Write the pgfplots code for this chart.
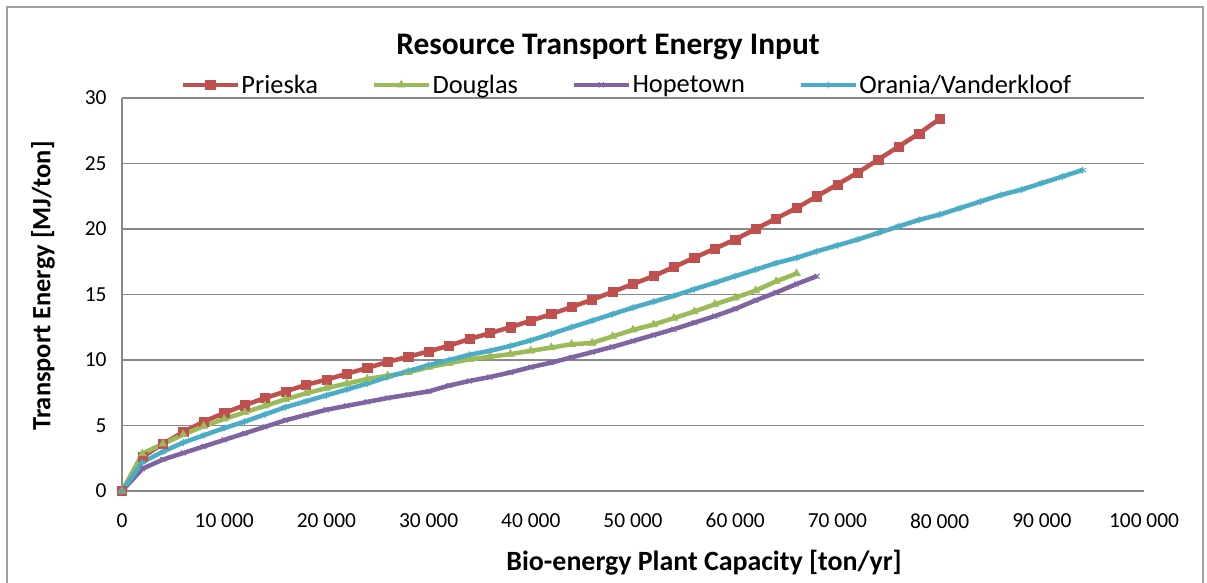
\documentclass[border=0pt]{standalone}
\usepackage{pgfplots}
\pgfplotsset{compat=1.18}
\usepackage{fontspec}
\setmainfont{Carlito}
\definecolor{cPri}{HTML}{C0504D}
\definecolor{cDou}{HTML}{9BBB59}
\definecolor{cHop}{HTML}{8064A2}
\definecolor{cOra}{HTML}{4BACC6}
\definecolor{cGrid}{HTML}{898989}
\begin{document}
\begin{tikzpicture}[x=1bp,y=1bp]
\useasboundingbox (0,0) rectangle (1207,583);
\draw[cGrid!80,line width=1.5bp] (7,-2) -- (7,576) -- (1203,576) -- (1203,-2);
\node[font=\bfseries\fontsize{31.5}{34}\selectfont] at (608,536) {Resource Transport Energy Input};
\node[font=\bfseries\fontsize{26.5}{30}\selectfont,rotate=90] at (43,297) {Transport Energy [MJ/ton]};
\node[font=\bfseries\fontsize{28}{31}\selectfont] at (704,20) {Bio-energy Plant Capacity [ton/yr]};
\begin{axis}[
  at={(122bp,92bp)}, anchor=origin,
  scale only axis, width=1022bp, height=393bp,
  xmin=0, xmax=100000, ymin=0, ymax=30,
  axis x line*=bottom, axis y line*=left,
  axis line style={cGrid,line width=1.5bp},
  ymajorgrids, grid style={cGrid,line width=1.5bp},
  major tick length=0pt,
  scaled x ticks=false,
  ytick={0,5,...,30},
  xtick={0,10000,...,100000},
  xticklabels={0,10 000,20 000,30 000,40 000,50 000,60 000,70 000,80 000,90 000,100 000},
  /pgf/number format/assume math mode=true,
  ticklabel style={font=\fontsize{21.5}{23}\selectfont},
  xticklabel style={yshift=-19bp},
  yticklabel style={xshift=-12bp},
  clip=false,
  legend columns=4,
  legend style={at={(axis description cs:0.4937,1)}, anchor=south, yshift=1bp, draw=none, fill=none,
    font=\fontsize{26.5}{29}\selectfont,
    nodes={inner xsep=1.5bp, inner ysep=0bp},
    /tikz/every even column/.append style={column sep=52bp}},
  legend cell align=left,
  legend image code/.code={\draw[#1, mark repeat=2, mark phase=2] plot coordinates {(0bp,0bp) (27.5bp,0bp) (55bp,0bp)};},
  every axis plot/.append style={line width=4.5bp},
]
\addplot[cPri, mark=square*, mark size=4.6bp, mark options={line width=0.5bp}] coordinates {
(0,0)(2000,2.6)(4000,3.6)(6000,4.5)(8000,5.3)(10000,5.95)(12000,6.55)(14000,7.1)(16000,7.6)(18000,8.1)(20000,8.5)(22000,8.95)(24000,9.4)(26000,9.85)(28000,10.25)(30000,10.65)(32000,11.1)(34000,11.6)(36000,12.05)(38000,12.5)(40000,13.0)(42000,13.5)(44000,14.05)(46000,14.6)(48000,15.2)(50000,15.8)(52000,16.4)(54000,17.1)(56000,17.8)(58000,18.5)(60000,19.2)(62000,20.0)(64000,20.8)(66000,21.6)(68000,22.5)(70000,23.4)(72000,24.3)(74000,25.3)(76000,26.3)(78000,27.3)(80000,28.4)};
\addlegendentry{Prieska}
\addplot[cDou, mark=triangle*, mark size=4.6bp, mark options={line width=0.5bp}] coordinates {
(0,0)(2000,2.85)(4000,3.6)(6000,4.3)(8000,4.95)(10000,5.5)(12000,6.0)(14000,6.5)(16000,7.0)(18000,7.45)(20000,7.85)(22000,8.2)(24000,8.55)(26000,8.8)(28000,9.05)(30000,9.45)(32000,9.75)(34000,10.05)(36000,10.25)(38000,10.45)(40000,10.7)(42000,10.95)(44000,11.2)(46000,11.3)(48000,11.8)(50000,12.3)(52000,12.7)(54000,13.2)(56000,13.7)(58000,14.25)(60000,14.75)(62000,15.3)(64000,16.0)(66000,16.6)};
\addlegendentry{Douglas}
\addplot[cHop, mark=x, mark size=3.5bp, mark options={line width=1bp}] coordinates {
(0,0)(2000,1.7)(4000,2.4)(6000,2.9)(8000,3.4)(10000,3.9)(12000,4.4)(14000,4.9)(16000,5.4)(18000,5.8)(20000,6.2)(22000,6.5)(24000,6.8)(26000,7.1)(28000,7.35)(30000,7.6)(32000,8.05)(34000,8.4)(36000,8.7)(38000,9.05)(40000,9.45)(42000,9.8)(44000,10.2)(46000,10.6)(48000,11.0)(50000,11.45)(52000,11.9)(54000,12.35)(56000,12.85)(58000,13.35)(60000,13.9)(62000,14.55)(64000,15.15)(66000,15.8)(68000,16.4)};
\addlegendentry{Hopetown}
\addplot[cOra, mark=asterisk, mark size=3.5bp, mark options={line width=1bp}] coordinates {
(0,0)(2000,2.2)(4000,3.0)(6000,3.7)(8000,4.25)(10000,4.8)(12000,5.3)(14000,5.85)(16000,6.4)(18000,6.85)(20000,7.3)(22000,7.75)(24000,8.2)(26000,8.7)(28000,9.15)(30000,9.6)(32000,10.0)(34000,10.4)(36000,10.7)(38000,11.07)(40000,11.5)(42000,12.0)(44000,12.5)(46000,13.0)(48000,13.5)(50000,14.0)(52000,14.45)(54000,14.9)(56000,15.4)(58000,15.9)(60000,16.4)(62000,16.9)(64000,17.4)(66000,17.8)(68000,18.3)(70000,18.75)(72000,19.2)(74000,19.7)(76000,20.2)(78000,20.7)(80000,21.1)(82000,21.6)(84000,22.1)(86000,22.6)(88000,23.0)(90000,23.5)(92000,24.0)(94000,24.5)};
\addlegendentry{Orania/Vanderkloof}
\end{axis}
\end{tikzpicture}
\end{document}
